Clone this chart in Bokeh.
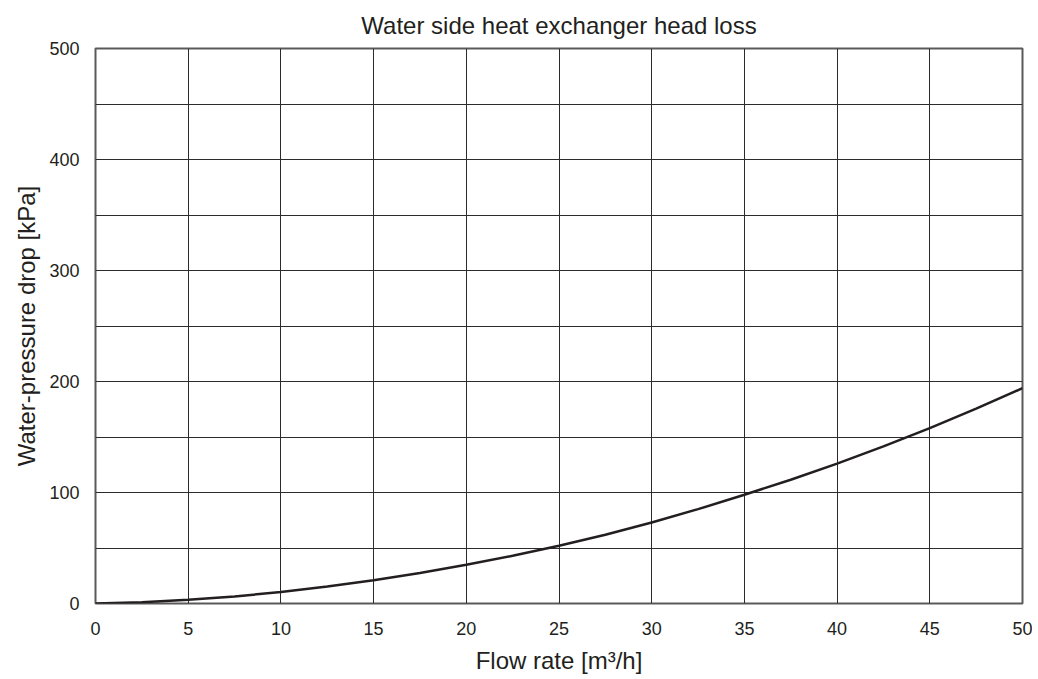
from bokeh.plotting import figure
from bokeh.models import Range1d, FixedTicker
from bokeh.embed import file_html
from bokeh.resources import INLINE

# Data
flow = [0, 2.5, 5, 7.5, 10, 12.5, 15, 17.5, 20, 22.5, 25, 27.5, 30, 32.5, 35, 37.5, 40, 42.5, 45, 47.5, 50]
pressure_drop = [0, 1.1, 3.3, 6.4, 10.3, 15.3, 21, 27.5, 35, 43, 52, 62, 73, 85, 98, 111.5, 126, 141.5, 158, 175.5, 194]

x_ticks = [0, 5, 10, 15, 20, 25, 30, 35, 40, 45, 50]
y_ticks = [0, 100, 200, 300, 400, 500]
y_grid = [0, 50, 100, 150, 200, 250, 300, 350, 400, 450, 500]

TITLE = "Water side heat exchanger head loss"
FONT = "Liberation Sans"
INK = "#231f20"

p = figure(frame_width=927, frame_height=555,
           output_backend="svg", toolbar_location=None,
           x_range=Range1d(0, 50), y_range=Range1d(0, 500),
           min_border_left=95, min_border_right=10, min_border_top=48, min_border_bottom=0,
           title=TITLE)

p.title.text_font = FONT
p.title.text_font_size = "24px"
p.title.text_font_style = "normal"
p.title.text_color = INK
p.title.align = "center"
p.title.standoff = 19

p.outline_line_color = "#5a5a5a"
p.outline_line_width = 2

p.xaxis.ticker = FixedTicker(ticks=x_ticks)
p.yaxis.ticker = FixedTicker(ticks=y_ticks)
p.xgrid.ticker = FixedTicker(ticks=x_ticks)
p.ygrid.ticker = FixedTicker(ticks=y_grid)

for g in (p.xgrid, p.ygrid):
    g.grid_line_color = "#2b2b2b"
    g.grid_line_width = 1
    g.grid_line_alpha = 1.0

for ax in (p.xaxis, p.yaxis):
    ax.axis_line_color = None
    ax.major_tick_line_color = None
    ax.minor_tick_line_color = None
    ax.major_label_text_font = FONT
    ax.major_label_text_font_size = "18px"
    ax.major_label_text_color = INK
    ax.axis_label_text_font = FONT
    ax.axis_label_text_font_size = "24px"
    ax.axis_label_text_font_style = "normal"
    ax.axis_label_text_color = INK

p.xaxis.axis_label = "Flow rate [m\u00b3/h]"
p.yaxis.axis_label = "Water-pressure drop [kPa]"
p.xaxis.major_label_standoff = 12
p.yaxis.major_label_standoff = 10
p.xaxis.axis_label_standoff = 9
p.yaxis.axis_label_standoff = 6

p.line(flow, pressure_drop, line_color=INK, line_width=2.5)

open("out.html", "w").write(file_html(p, INLINE))
